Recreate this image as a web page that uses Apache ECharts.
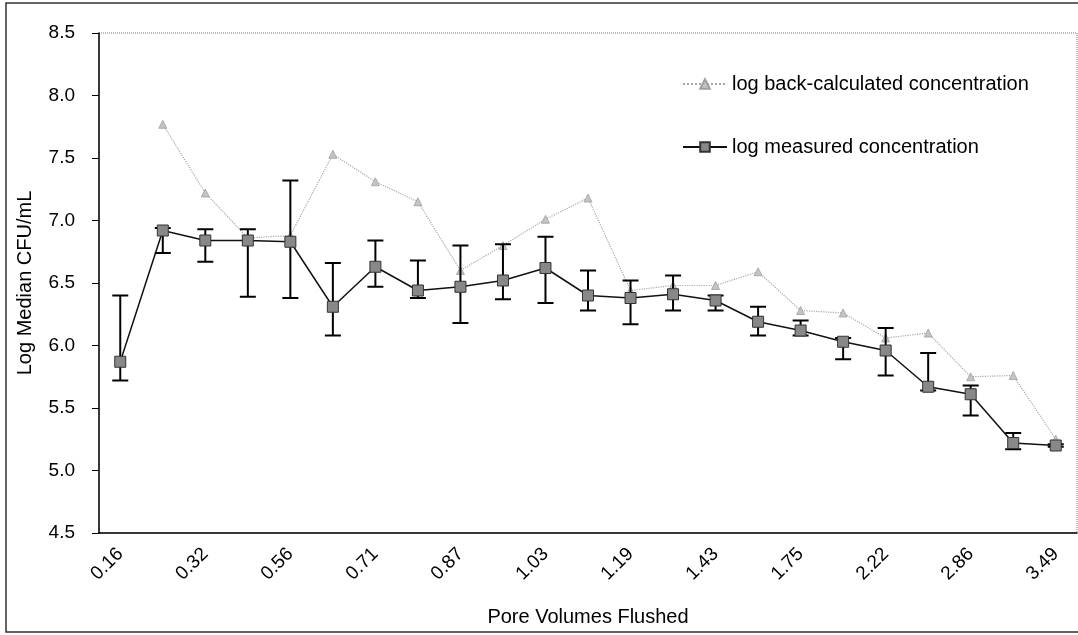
<!DOCTYPE html>
<html>
<head>
<meta charset="utf-8">
<script src="https://cdn.jsdelivr.net/npm/echarts@6/dist/echarts.min.js"></script>
<style>
html,body{margin:0;padding:0;background:#fff;}
#chart{width:1078px;height:635px;}
</style>
</head>
<body>
<div id="chart"></div>
<script>
// Pore volumes flushed (only every other label is printed in the reference)
const categories = ['0.16','','0.32','','0.56','','0.71','','0.87','','1.03','','1.19','','1.43','','1.75','','2.22','','2.86','','3.49'];
const measured = [5.87,6.92,6.84,6.84,6.83,6.31,6.63,6.44,6.47,6.52,6.62,6.40,6.38,6.41,6.36,6.19,6.12,6.03,5.96,5.67,5.61,5.22,5.20];
const errHigh  = [6.40,6.94,6.93,6.93,7.32,6.66,6.84,6.68,6.80,6.81,6.87,6.60,6.52,6.56,6.40,6.31,6.20,6.06,6.14,5.94,5.68,5.30,5.21];
const errLow   = [5.72,6.74,6.67,6.39,6.38,6.08,6.47,6.38,6.18,6.37,6.34,6.28,6.17,6.28,6.28,6.08,6.08,5.89,5.76,5.64,5.44,5.17,5.19];
const backCalc = [null,7.77,7.22,6.86,6.88,7.53,7.31,7.15,6.60,6.80,7.01,7.18,6.44,6.48,6.48,6.59,6.28,6.26,6.06,6.10,5.75,5.76,5.25];
const yTicks = {min:4.5, max:8.5, interval:0.5};

const errData = measured.map((v,i)=>[i, errLow[i], errHigh[i]]);

const chart = echarts.init(document.getElementById('chart'));
const FONT = '"Liberation Sans", Arial, sans-serif';
chart.setOption({
  animation:false,
  backgroundColor:'#fff',
  textStyle:{fontFamily:FONT},
  graphic:[{type:'rect', shape:{x:6,y:3,width:1090,height:629}, style:{fill:'none',stroke:'#333',lineWidth:1.5}, silent:true, z:-1}],
  grid:{left:99, top:33, right:1, bottom:102, show:true, borderColor:'#777', borderWidth:1, borderType:'dotted'},
  legend:{
    orient:'vertical', left:677, top:69, itemGap:43, itemWidth:44, itemHeight:12,
    data:['log back-calculated concentration','log measured concentration'],
    textStyle:{fontSize:20, color:'#000', fontFamily:FONT}
  },
  xAxis:{
    type:'category', data:categories, boundaryGap:true,
    name:'Pore Volumes Flushed', nameLocation:'middle', nameGap:74,
    nameTextStyle:{fontSize:20,color:'#000',fontFamily:FONT},
    axisLine:{lineStyle:{color:'#000',width:1.5}},
    axisTick:{show:false},
    axisLabel:{interval:0, rotate:45, fontSize:19, color:'#000', margin:18, fontFamily:FONT}
  },
  yAxis:{
    type:'value', min:yTicks.min, max:yTicks.max, interval:yTicks.interval,
    name:'Log Median CFU/mL', nameLocation:'middle', nameGap:64,
    nameTextStyle:{fontSize:20,color:'#000',fontFamily:FONT},
    axisLine:{show:true, lineStyle:{color:'#000',width:1.5}},
    axisTick:{show:true, inside:false, length:7, lineStyle:{color:'#000'}},
    splitLine:{show:false},
    axisLabel:{fontSize:19, color:'#000', margin:24, fontFamily:FONT, formatter:v=>v.toFixed(1)}
  },
  series:[
    {
      name:'log back-calculated concentration', type:'line', data:backCalc,
      symbol:'triangle', symbolSize:8, showSymbol:true,
      lineStyle:{color:'#a8a8a8', width:1.2, type:'dotted'},
      itemStyle:{color:'#c4c4c4', borderColor:'#a0a0a0', borderWidth:0.8},
      z:2
    },
    {
      name:'log measured concentration', type:'line', data:measured,
      symbol:'rect', symbolSize:11,
      lineStyle:{color:'#111', width:1.5},
      itemStyle:{color:'#888', borderColor:'#333', borderWidth:1},
      z:4
    },
    {
      name:'err', type:'custom', data:errData, z:3,
      renderItem:function(params, api){
        const x = api.value(0);
        const lo = api.coord([x, api.value(1)]);
        const hi = api.coord([x, api.value(2)]);
        const hw = 8;
        const st = {stroke:'#000', lineWidth:2};
        return {type:'group', children:[
          {type:'line', shape:{x1:lo[0],y1:lo[1],x2:hi[0],y2:hi[1]}, style:st},
          {type:'line', shape:{x1:lo[0]-hw,y1:lo[1],x2:lo[0]+hw,y2:lo[1]}, style:st},
          {type:'line', shape:{x1:hi[0]-hw,y1:hi[1],x2:hi[0]+hw,y2:hi[1]}, style:st}
        ]};
      }
    }
  ]
});
</script>
</body>
</html>
